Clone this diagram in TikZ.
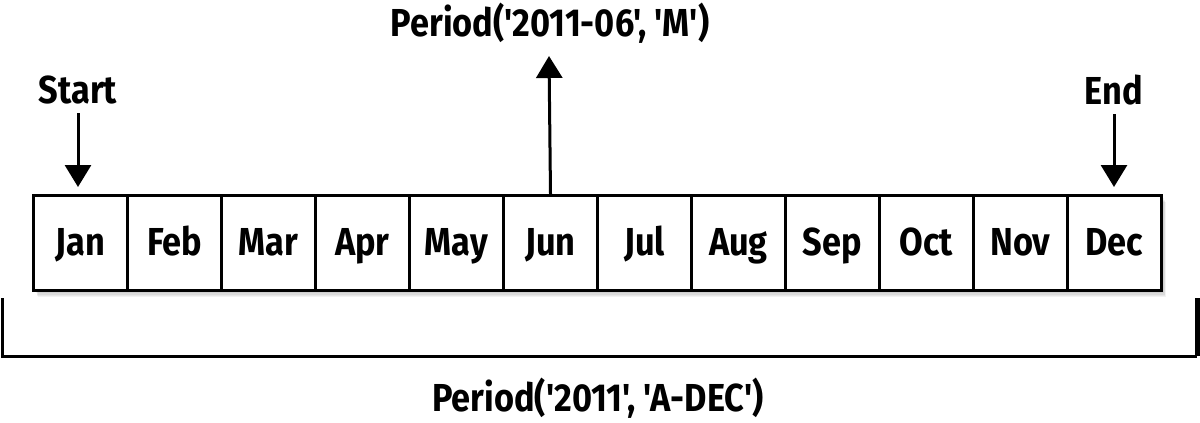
\documentclass[tikz,border=0pt]{standalone}
\usepackage{fontspec}
\setmainfont{Fira Sans}[FakeStretch=0.88, UprightFont=* Bold, BoldFont=* Bold, Ligatures=TeXOff]
\usetikzlibrary{arrows.meta}
\begin{document}
\begin{tikzpicture}[x=1pt,y=-1pt,
  month/.style={draw, line width=3pt, minimum width=94pt, minimum height=95pt, inner sep=0pt, text height=28pt, text depth=4pt, font=\fontsize{39}{40}\selectfont, anchor=north west},
  lbl/.style={font=\fontsize{39}{40}\selectfont, inner sep=0pt},
  arr/.style={line width=3pt, -{Triangle[width=26pt,length=22pt]}},
  brk/.style={line width=3pt}]
\useasboundingbox (0,0) rectangle (1200,423);
% soft shadow
\foreach \i in {1,...,7}{
  \fill[black, opacity=0.05] (32+\i*0.9,194+\i*1.1) rectangle (1160+\i*0.9,289+\i*1.1);
}
\fill[white] (32,194) rectangle (1160,289);
\foreach \m [count=\k] in {Jan,Feb,Mar,Apr,May,Jun,Jul,Aug,Sep,Oct,Nov,Dec}{
  \node[month] (m\k) at ({32+(\k-1)*94},194) {\m};
}
\node[lbl] (start) at (78,90) {Start};
\node[lbl] (end) at (1114,90) {End};
\node[lbl] (top) at (550,23) {Period('2011-06', 'M')};
\node[lbl] (bot) at (598,398) {Period('2011', 'A-DEC')};
\draw[arr] (start.south) ++(0,9) -- ([yshift=7pt]m1.north -| start.south);
\draw[arr] (end.south) ++(0,9) -- ([yshift=7pt]m12.north -| end.south);
\coordinate (toptip) at (549,56);
\draw[arr] (m6.north) -- (toptip);
\coordinate (bl) at (2,298);
\coordinate (blc) at (2,356);
\coordinate (brc) at (1197,356);
\coordinate (br) at (1197,298);
\draw[brk] (bl) -- (blc) -- (brc);
\draw[line width=5pt] (brc) -- (br);
\end{tikzpicture}
\end{document}
